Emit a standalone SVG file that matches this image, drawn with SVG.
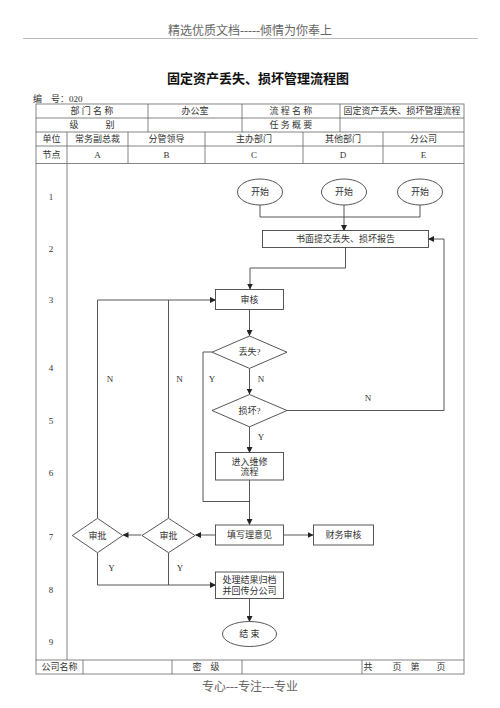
<svg xmlns="http://www.w3.org/2000/svg" width="500" height="708" viewBox="0 0 500 708">
<defs>
<marker id="ah" markerWidth="6" markerHeight="6" refX="5.5" refY="3" orient="auto" markerUnits="userSpaceOnUse">
<path d="M0,0 L6,3 L0,6 z" fill="#222"/>
</marker>
<style>
text{font-family:"Liberation Serif","Noto Sans CJK SC",serif;font-size:9px;fill:#333;text-anchor:middle;dominant-baseline:central}
.hd{font-size:12px;fill:#666}
.tt{font-size:13px;font-weight:bold;fill:#111}
.grid{stroke:#666;stroke-width:0.8;fill:none}
.nd{fill:#fff;stroke:#444;stroke-width:0.9}
.ln{fill:none;stroke:#444;stroke-width:0.9}
.ar{fill:none;stroke:#444;stroke-width:0.9;marker-end:url(#ah)}
</style>
</defs>
<rect width="500" height="708" fill="#fff"/>
<text class="hd" x="250" y="31">精选优质文档-----倾情为你奉上</text>
<line x1="23" y1="38.5" x2="478" y2="38.5" stroke="#bbb" stroke-width="1"/>
<text class="tt" x="258" y="78">固定资产丢失、损坏管理流程图</text>
<text x="33" y="99" style="text-anchor:start">编　号：020</text>

<g id="table">
<rect class="grid" x="36" y="104" width="428" height="570"/>
<line class="grid" x1="36" y1="118" x2="464" y2="118"/>
<line class="grid" x1="36" y1="132" x2="464" y2="132"/>
<line class="grid" x1="36" y1="146" x2="464" y2="146"/>
<line class="grid" x1="36" y1="163.5" x2="464" y2="163.5"/>
<line class="grid" x1="36" y1="660" x2="464" y2="660"/>
<line class="grid" x1="148" y1="104" x2="148" y2="132"/>
<line class="grid" x1="242" y1="104" x2="242" y2="132"/>
<line class="grid" x1="340" y1="104" x2="340" y2="132"/>
<line class="grid" x1="67" y1="132" x2="67" y2="660"/>
<line class="grid" x1="128" y1="132" x2="128" y2="163.5"/>
<line class="grid" x1="205" y1="132" x2="205" y2="163.5"/>
<line class="grid" x1="303" y1="132" x2="303" y2="163.5"/>
<line class="grid" x1="383" y1="132" x2="383" y2="163.5"/>
<line class="grid" x1="83" y1="660" x2="83" y2="674"/>
<line class="grid" x1="172" y1="660" x2="172" y2="674"/>
<line class="grid" x1="242" y1="660" x2="242" y2="674"/>
<line class="grid" x1="362" y1="660" x2="362" y2="674"/>
<text x="92" y="111">部 门 名 称</text>
<text x="195" y="111">办公室</text>
<text x="291" y="111">流 程 名 称</text>
<text x="402" y="111">固定资产丢失、损坏管理流程</text>
<text x="92" y="125">级　　　别</text>
<text x="291" y="125">任 务 概 要</text>
<text x="51.5" y="139">单位</text>
<text x="97.5" y="139">常务副总裁</text>
<text x="166.5" y="139">分管领导</text>
<text x="254" y="139">主办部门</text>
<text x="343" y="139">其他部门</text>
<text x="423.5" y="139">分公司</text>
<text x="51.5" y="155">节点</text>
<text x="97.5" y="155">A</text>
<text x="166.5" y="155">B</text>
<text x="254" y="155">C</text>
<text x="343" y="155">D</text>
<text x="423.5" y="155">E</text>
<text x="51" y="197">1</text>
<text x="51" y="249">2</text>
<text x="51" y="300">3</text>
<text x="51" y="368">4</text>
<text x="51" y="421">5</text>
<text x="51" y="473">6</text>
<text x="51" y="537">7</text>
<text x="51" y="590">8</text>
<text x="51" y="642">9</text>
<text x="59.5" y="667">公司名称</text>
<text x="206" y="667">密　级</text>
<text x="368" y="667">共</text>
<text x="397" y="667">页</text>
<text x="415" y="667">第</text>
<text x="441" y="667">页</text>
</g>

<g id="connectors">
<polyline class="ln" points="260,205 260,217 420,217 420,205"/>
<line class="ar" x1="344" y1="205" x2="344" y2="230.5"/>
<polyline class="ar" points="345.5,247.5 345.5,268 250,268 250,289"/>
<line class="ar" x1="249.5" y1="309.5" x2="249.5" y2="335.5"/>
<line class="ar" x1="249.5" y1="368.5" x2="249.5" y2="394"/>
<polyline class="ln" points="287,410.5 444,410.5 444,239"/>
<line class="ar" x1="444" y1="239" x2="428.5" y2="239"/>
<line class="ar" x1="249.5" y1="427" x2="249.5" y2="452.5"/>
<polyline class="ln" points="212,352 203,352 203,501.5 249.5,501.5"/>
<line class="ar" x1="249.5" y1="480" x2="249.5" y2="524.5"/>
<line class="ar" x1="283.5" y1="535" x2="313" y2="535"/>
<line class="ar" x1="215.5" y1="535" x2="195.5" y2="535"/>
<line class="ar" x1="141.5" y1="535" x2="123" y2="535"/>
<polyline class="ln" points="97.5,518 97.5,300 168.5,300"/>
<polyline class="ln" points="168.5,518 168.5,300"/>
<line class="ar" x1="168.5" y1="300" x2="215.5" y2="300"/>
<polyline class="ln" points="97.5,553 97.5,585 168.5,585"/>
<line class="ln" x1="168.5" y1="553" x2="168.5" y2="585"/>
<line class="ar" x1="168.5" y1="585" x2="215.5" y2="585"/>
<line class="ar" x1="249.5" y1="598.5" x2="249.5" y2="621.5"/>
<text x="110" y="379">N</text>
<text x="179.5" y="379">N</text>
<text x="212" y="379">Y</text>
<text x="261" y="379">N</text>
<text x="368" y="398">N</text>
<text x="261" y="437">Y</text>
<text x="111.5" y="568">Y</text>
<text x="180" y="568">Y</text>
</g>

<g id="start1"><ellipse class="nd" cx="260" cy="192" rx="22.5" ry="13"/><text x="260" y="192">开始</text></g>
<g id="start2"><ellipse class="nd" cx="344" cy="192" rx="22.5" ry="13"/><text x="344" y="192">开始</text></g>
<g id="start3"><ellipse class="nd" cx="420" cy="192" rx="22.5" ry="13"/><text x="420" y="192">开始</text></g>
<g id="report"><rect class="nd" x="262.5" y="230.5" width="166" height="17"/><text x="345.5" y="239">书面提交丢失、损坏报告</text></g>
<g id="review"><rect class="nd" x="215.5" y="289.5" width="68" height="20"/><text x="249.5" y="299.5">审核</text></g>
<g id="lost"><polygon class="nd" points="249.5,336 287,352.2 249.5,368.4 212,352.2"/><text x="249.5" y="352.2">丢失?</text></g>
<g id="damaged"><polygon class="nd" points="249.5,394.5 287,410.5 249.5,426.8 212,410.5"/><text x="249.5" y="410.5">损坏?</text></g>
<g id="repair"><rect class="nd" x="215.5" y="452.5" width="68" height="27.5"/><text x="249.5" y="461.5">进入维修</text><text x="249.5" y="471.5">流程</text></g>
<g id="opinion"><rect class="nd" x="215.5" y="525" width="68" height="20"/><text x="249.5" y="535">填写理意见</text></g>
<g id="finance"><rect class="nd" x="313.5" y="525" width="60" height="20"/><text x="343.5" y="535">财务审核</text></g>
<g id="approveB"><polygon class="nd" points="168.5,518.3 195,535.5 168.5,552.7 142,535.5"/><text x="168.5" y="535.5">审批</text></g>
<g id="approveA"><polygon class="nd" points="97.5,518.3 122.7,535.5 97.5,552.7 72.3,535.5"/><text x="97.5" y="535.5">审批</text></g>
<g id="archive"><rect class="nd" x="215.5" y="572" width="68" height="26.5"/><text x="249.5" y="580">处理结果归档</text><text x="249.5" y="590.5">并回传分公司</text></g>
<g id="end"><ellipse class="nd" cx="249.5" cy="634" rx="27" ry="12.5"/><text x="249.5" y="634">结 束</text></g>

<text class="hd" x="250" y="687">专心---专注---专业</text>
</svg>
